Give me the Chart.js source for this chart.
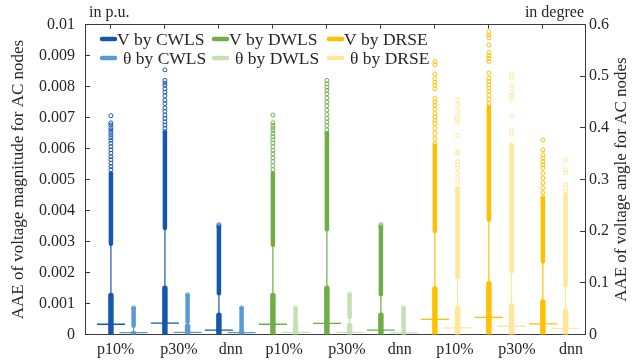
<!DOCTYPE html>
<html>
<head>
<meta charset="utf-8">
<script src="https://cdn.jsdelivr.net/npm/chart.js@4"></script>
<style>
html, body { margin: 0; padding: 0; background: #fff; }
</style>
</head>
<body>
<canvas id="chart" width="632" height="364"></canvas>
<script>
// estimators and measurement sets
var estimators = ['CWLS', 'DWLS', 'DRSE'];
var methods = ['p10%', 'p30%', 'dnn'];

// voltage magnitude AAE (p.u.), order: CWLS p10,p30,dnn, DWLS p10,p30,dnn, DRSE p10,p30,dnn
var vMedian  = [0.00033, 0.00037, 0.00014, 0.00033, 0.00036, 0.00014, 0.00049, 0.00055, 0.00034];
var vBoxTop  = [0.00126, 0.00149, 0.00062, 0.00126, 0.00149, 0.00062, 0.00148, 0.00164, 0.00105];
var vDenseLo = [0.00293, 0.00344, 0.00133, 0.00290, 0.00340, 0.00130, 0.00334, 0.00370, 0.00236];
var vDenseHi = [0.00520, 0.00650, 0.00345, 0.00520, 0.00650, 0.00345, 0.00610, 0.00735, 0.00440];
var vFliers = [
	[0.00706, 0.00683, 0.00676, 0.00667, 0.0066, 0.00652, 0.00644, 0.00635, 0.00627, 0.00617, 0.00606, 0.00596, 0.00585, 0.00574, 0.00564, 0.00553, 0.00542, 0.00532],
	[0.00854, 0.0082, 0.00811, 0.00804, 0.00793, 0.00782, 0.0077, 0.00756, 0.00745, 0.00731, 0.0072, 0.00708, 0.00697, 0.00686, 0.00676, 0.00665, 0.00654],
	[0.00354, 0.00348],
	[0.00708, 0.00683, 0.00675, 0.00666, 0.00658, 0.00648, 0.00638, 0.00628, 0.00618, 0.00606, 0.00594, 0.00583, 0.00570, 0.00558, 0.00545, 0.00532],
	[0.0082, 0.00809, 0.00798, 0.00788, 0.00777, 0.00763, 0.0075, 0.00738, 0.00724, 0.0071, 0.00697, 0.00686, 0.00674, 0.0066, 0.00649],
	[0.00354, 0.00348],
	[0.00881, 0.0087, 0.00841, 0.00825, 0.00814, 0.00804, 0.00793, 0.00761, 0.0075, 0.0074, 0.00727, 0.00713, 0.00702, 0.00692, 0.00681, 0.00665, 0.00649, 0.00633, 0.00617],
	[0.00977, 0.00966, 0.00958, 0.00934, 0.0091, 0.009, 0.00891, 0.00881, 0.00844, 0.00827, 0.00817, 0.00806, 0.00795, 0.00785, 0.00772, 0.00759, 0.00745],
	[0.00628, 0.00596, 0.0058, 0.00569, 0.00558, 0.00548, 0.00537, 0.00521, 0.00505, 0.00489, 0.00473, 0.00457, 0.00441]
];

// voltage angle AAE (degree), same order
var aMedian  = [0.0035, 0.004, 0.0035, 0.004, 0.004, 0.003, 0.013, 0.016, 0.012];
var aBoxTop  = [0.002, 0.016, 0.004, 0.013, 0.017, 0.004, 0.050, 0.0547, 0.045];
var aDenseLo = [0.017, 0.0246, 0.005, 0.018, 0.034, 0.005, 0.111, 0.1225, 0.095];
var aDenseHi = [0.050, 0.075, 0.050, 0.050, 0.076, 0.050, 0.283, 0.367, 0.271];
var aFliers = [
	[0.0515],
	[0.077],
	[0.0515],
	[0.052],
	[0.079],
	[0.052],
	[0.4535, 0.4451, 0.4343, 0.4234, 0.417, 0.4119, 0.385, 0.3543, 0.351, 0.3351, 0.3287, 0.3222, 0.3126, 0.303, 0.2934],
	[0.5046, 0.4983, 0.4823, 0.4695, 0.4618, 0.4554, 0.4228, 0.3959, 0.3894],
	[0.3383, 0.3191, 0.3126, 0.2903, 0.2838, 0.2775]
];

var vColors = ['#1656ae', '#70ad47', '#ffc000'];
var aColors = ['#5b9bd5', '#c5e0b4', '#ffe699'];

var FONT = 'Liberation Serif';
var TEXT = '#262626';
var AXIS = '#3a3a3a';

// label positions under each V/θ pair
var labelPos = [1.09, 2.26, 3.22, 4.21, 5.37, 6.35, 7.37, 8.52, 9.52];
var angleOffset = 0.42;
var medianHalf = 0.26;

var datasets = [];

function seg(points, color, width, axis, cap)
{
	return {
		data: points,
		showLine: true,
		borderColor: color,
		backgroundColor: color,
		borderWidth: width,
		borderCapStyle: cap || 'butt',
		pointRadius: 0,
		yAxisID: axis
	};
}

//en box med whisker, täta och glesa outliers
function add_box(x, axis, color, med, boxTop, lo, hi, fliers)
{
	datasets.push(seg([{x: x, y: boxTop}, {x: x, y: lo}], color, 1.2, axis));
	datasets.push(seg([{x: x, y: lo}, {x: x, y: hi}], color, 4.5, axis, 'round'));
	datasets.push(seg([{x: x, y: 0}, {x: x, y: boxTop}], color, 5.5, axis, 'round'));
	datasets.push(seg([{x: x - medianHalf, y: med}, {x: x + medianHalf, y: med}], color, 1.3, axis));
	datasets.push({
		data: fliers.map(function(v){ return {x: x, y: v}; }),
		showLine: false,
		pointRadius: 2,
		pointBorderWidth: 1,
		pointBorderColor: color,
		pointBackgroundColor: 'rgba(255,255,255,0)',
		yAxisID: axis
	});
}

for (var i = 0; i < 9; i++)
{
	var g = Math.floor(i / 3);
	add_box(i + 1, 'y', vColors[g], vMedian[i], vBoxTop[i], vDenseLo[i], vDenseHi[i], vFliers[i]);
	add_box(i + 1 + angleOffset, 'y2', aColors[g], aMedian[i], aBoxTop[i], aDenseLo[i], aDenseHi[i], aFliers[i]);
}

//texter och legend
var decor = {
	id: 'decor',
	afterDraw: function(chart)
	{
		var ctx = chart.ctx;
		var area = chart.chartArea;
		ctx.save();
		ctx.fillStyle = TEXT;
		ctx.font = '16px "' + FONT + '"';
		ctx.textBaseline = 'alphabetic';
		ctx.textAlign = 'left';
		ctx.fillText('in p.u.', 89, 17);
		ctx.textAlign = 'right';
		ctx.fillText('in degree', 584, 17);

		//axeltitlar
		ctx.font = '17px "' + FONT + '"';
		ctx.textAlign = 'center';
		ctx.textBaseline = 'middle';
		ctx.save();
		ctx.translate(19, (area.top + area.bottom) / 2);
		ctx.rotate(-Math.PI / 2);
		ctx.fillText('AAE of voltage magnitude for AC nodes', 0, 0);
		ctx.restore();
		ctx.save();
		ctx.translate(622, (area.top + area.bottom) / 2);
		ctx.rotate(-Math.PI / 2);
		ctx.fillText('AAE of voltage angle for AC nodes', 0, 0);
		ctx.restore();

		//legend
		var cols = [100, 212, 327];
		var rows = [39, 58];
		ctx.font = '17.5px "' + FONT + '"';
		ctx.textAlign = 'left';
		for (var k = 0; k < 3; k++)
		{
			for (var r = 0; r < 2; r++)
			{
				ctx.strokeStyle = r == 0 ? vColors[k] : aColors[k];
				ctx.lineWidth = 4.5;
				ctx.lineCap = 'round';
				ctx.beginPath();
				ctx.moveTo(cols[k] + 2, rows[r]);
				ctx.lineTo(cols[k] + 15, rows[r]);
				ctx.stroke();
				ctx.fillStyle = TEXT;
				if (r == 0)
					ctx.fillText('V by ' + estimators[k], cols[k] + 17, rows[r] + 1);
				else
					ctx.fillText('\u03b8 by ' + estimators[k], cols[k] + 23, rows[r] + 1);
			}
		}
		ctx.restore();
	}
};

var tickFont = { family: FONT, size: 16 };

new Chart(document.getElementById('chart'), {
	type: 'scatter',
	data: { datasets: datasets },
	options: {
		responsive: false,
		animation: false,
		layout: { padding: 0 },
		plugins: { legend: { display: false }, tooltip: { enabled: false } },
		scales: {
			x: {
				type: 'linear',
				position: 'bottom',
				min: 0.52,
				max: 9.78,
				afterBuildTicks: function(scale){ scale.ticks = labelPos.map(function(v){ return {value: v}; }); },
				afterFit: function(scale){ scale.height = 29.5; },
				ticks: {
					font: tickFont, color: TEXT, padding: 6, maxRotation: 0, autoSkip: false,
					callback: function(v, idx){ return methods[idx % 3]; }
				},
				grid: { display: true, drawOnChartArea: false, drawTicks: false },
				border: { color: AXIS, width: 1 }
			},
			x2: {
				type: 'linear',
				position: 'top',
				min: 0.52,
				max: 9.78,
				afterBuildTicks: function(scale){ scale.ticks = [1,2,3,4,5,6,7,8,9].map(function(v){ return {value: v}; }); },
				afterFit: function(scale){ scale.height = 22; },
				ticks: { callback: function(){ return ''; } },
				grid: { drawOnChartArea: false, tickLength: -4, color: AXIS },
				border: { color: AXIS, width: 1 }
			},
			y: {
				position: 'left',
				min: 0,
				max: 0.01,
				afterFit: function(scale){ scale.width = 85; },
				ticks: {
					stepSize: 0.001, font: tickFont, color: TEXT, padding: 15,
					callback: function(v){ return parseFloat(v.toFixed(3)).toString(); }
				},
				grid: { drawOnChartArea: false, tickLength: -5, color: AXIS },
				border: { color: AXIS, width: 1 }
			},
			y2: {
				position: 'right',
				min: 0,
				max: 0.6,
				afterFit: function(scale){ scale.width = 47; },
				ticks: {
					stepSize: 0.1, font: tickFont, color: TEXT, padding: 9,
					callback: function(v){ return parseFloat(v.toFixed(1)).toString(); }
				},
				grid: { drawOnChartArea: false, tickLength: -5, color: AXIS },
				border: { color: AXIS, width: 1 }
			}
		}
	},
	plugins: [decor]
});
</script>
</body>
</html>
